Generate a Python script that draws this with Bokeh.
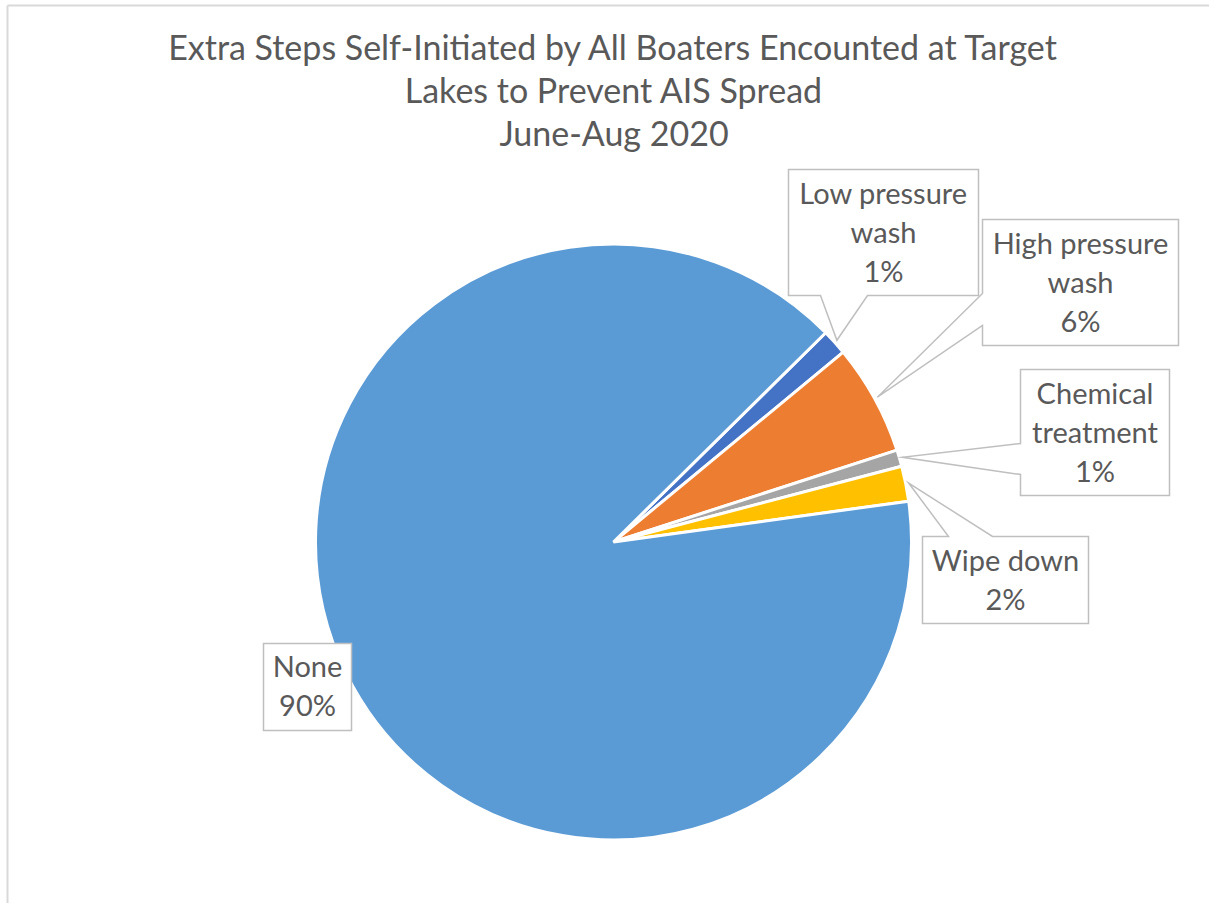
import math
from bokeh.plotting import figure
from bokeh.models import Range1d, ColumnDataSource
from bokeh.core.properties import value
from bokeh.embed import file_html
from bokeh.resources import INLINE

# ---- data ----
categories = ["Low pressure wash", "High pressure wash", "Chemical treatment", "Wipe down", "None"]
shares = [1.4, 6.0, 0.9, 1.9, 89.8]
colors = ["#4472C4", "#ED7D31", "#A5A5A5", "#FFC000", "#5B9BD5"]
label_lines = [["Low pressure", "wash"], ["High pressure", "wash"], ["Chemical", "treatment"], ["Wipe down"], ["None"]]
title_lines = ["Extra Steps Self-Initiated by All Boaters Encounted at Target",
               "Lakes to Prevent AIS Spread",
               "June-Aug 2020"]

# ---- layout (pixels from the chart's top-left corner) ----
W, H = 1209, 903
def Y(v):
    return H - v

FONT = "Lato"
TXT = "#595959"

p = figure(width=W, height=H, x_range=Range1d(0, W), y_range=Range1d(0, H),
           output_backend="svg", toolbar_location=None, min_border=0,
           x_axis_location=None, y_axis_location=None)
p.grid.visible = False
p.outline_line_color = None
p.background_fill_color = "white"
p.border_fill_color = "white"

# chart border (left + top visible)
p.line([7, 7], [0, Y(5)], line_color="#D9D9D9", line_width=2)
p.line([7, W], [Y(5), Y(5)], line_color="#D9D9D9", line_width=2)

# ---- pie ----
pcx, pcy, R = 613, 541.5, 298
start_deg = 45.4  # clockwise from 12 o'clock
total = sum(shares)
starts, ends, mids_clock = [], [], []
acc = start_deg
for s in shares:
    span = s / total * 360
    starts.append(math.radians(90 - acc))
    ends.append(math.radians(90 - acc - span))
    mids_clock.append(acc + span / 2)
    acc += span

src = ColumnDataSource(dict(cat=categories, share=shares, color=colors, start=starts, end=ends))
p.wedge(x=pcx, y=Y(pcy), radius=R, start_angle="start", end_angle="end", direction="clock",
        fill_color="color", line_color="white", line_width=3, source=src)

# ---- callouts ----
boxes = [(788, 169, 978, 295), (982, 219, 1178, 345), (1020, 369, 1169, 495),
         (922, 536, 1088, 623), (263, 643, 351, 730)]
tails = [("bottom", (820, 867)), ("left", (293, 325)), ("left", (443, 474)),
         ("top", (948, 992)), (None, None)]
text_pos = [(883, 192), (1080, 242), (1094.5, 392), (1005, 559), (307, 665)]
LINE = 39

xs, ys = [], []
for i in range(len(categories)):
    l, t, r, b = boxes[i]
    side, base = tails[i]
    th = math.radians(mids_clock[i])
    tx = pcx + 301 * math.sin(th)
    ty = pcy - 301 * math.cos(th)
    if side is None:
        pts = [(l, t), (r, t), (r, b), (l, b)]
    elif side == "bottom":
        pts = [(l, t), (r, t), (r, b), (base[1], b), (tx, ty), (base[0], b), (l, b)]
    elif side == "left":
        pts = [(l, t), (r, t), (r, b), (l, b), (l, base[1]), (tx, ty), (l, base[0])]
    else:
        pts = [(l, t), (base[0], t), (tx, ty), (base[1], t), (r, t), (r, b), (l, b)]
    xs.append([q[0] for q in pts])
    ys.append([Y(q[1]) for q in pts])

p.patches(xs, ys, fill_color="white", line_color="#BFBFBF", line_width=1.5, line_join="miter")

lx, ly, lt = [], [], []
for i, s in enumerate(shares):
    lines = label_lines[i] + [f"{round(s / total * 100):.0f}%"]
    x0, y0 = text_pos[i]
    for k, txt in enumerate(lines):
        lx.append(x0)
        ly.append(Y(y0 + k * LINE))
        lt.append(txt)
p.text(x=lx, y=ly, text=lt, text_font=value(FONT), text_font_size="29px", text_color=TXT,
       text_align="center", text_baseline="alphabetic")

# ---- title ----
tb = [46, 89, 132]
p.text(x=[613.5] * 3, y=[Y(v) for v in tb], text=title_lines, text_font=value(FONT),
       text_font_size="34px", text_color=TXT, text_align="center", text_baseline="alphabetic")

open("out.html", "w").write(file_html(p, INLINE))
